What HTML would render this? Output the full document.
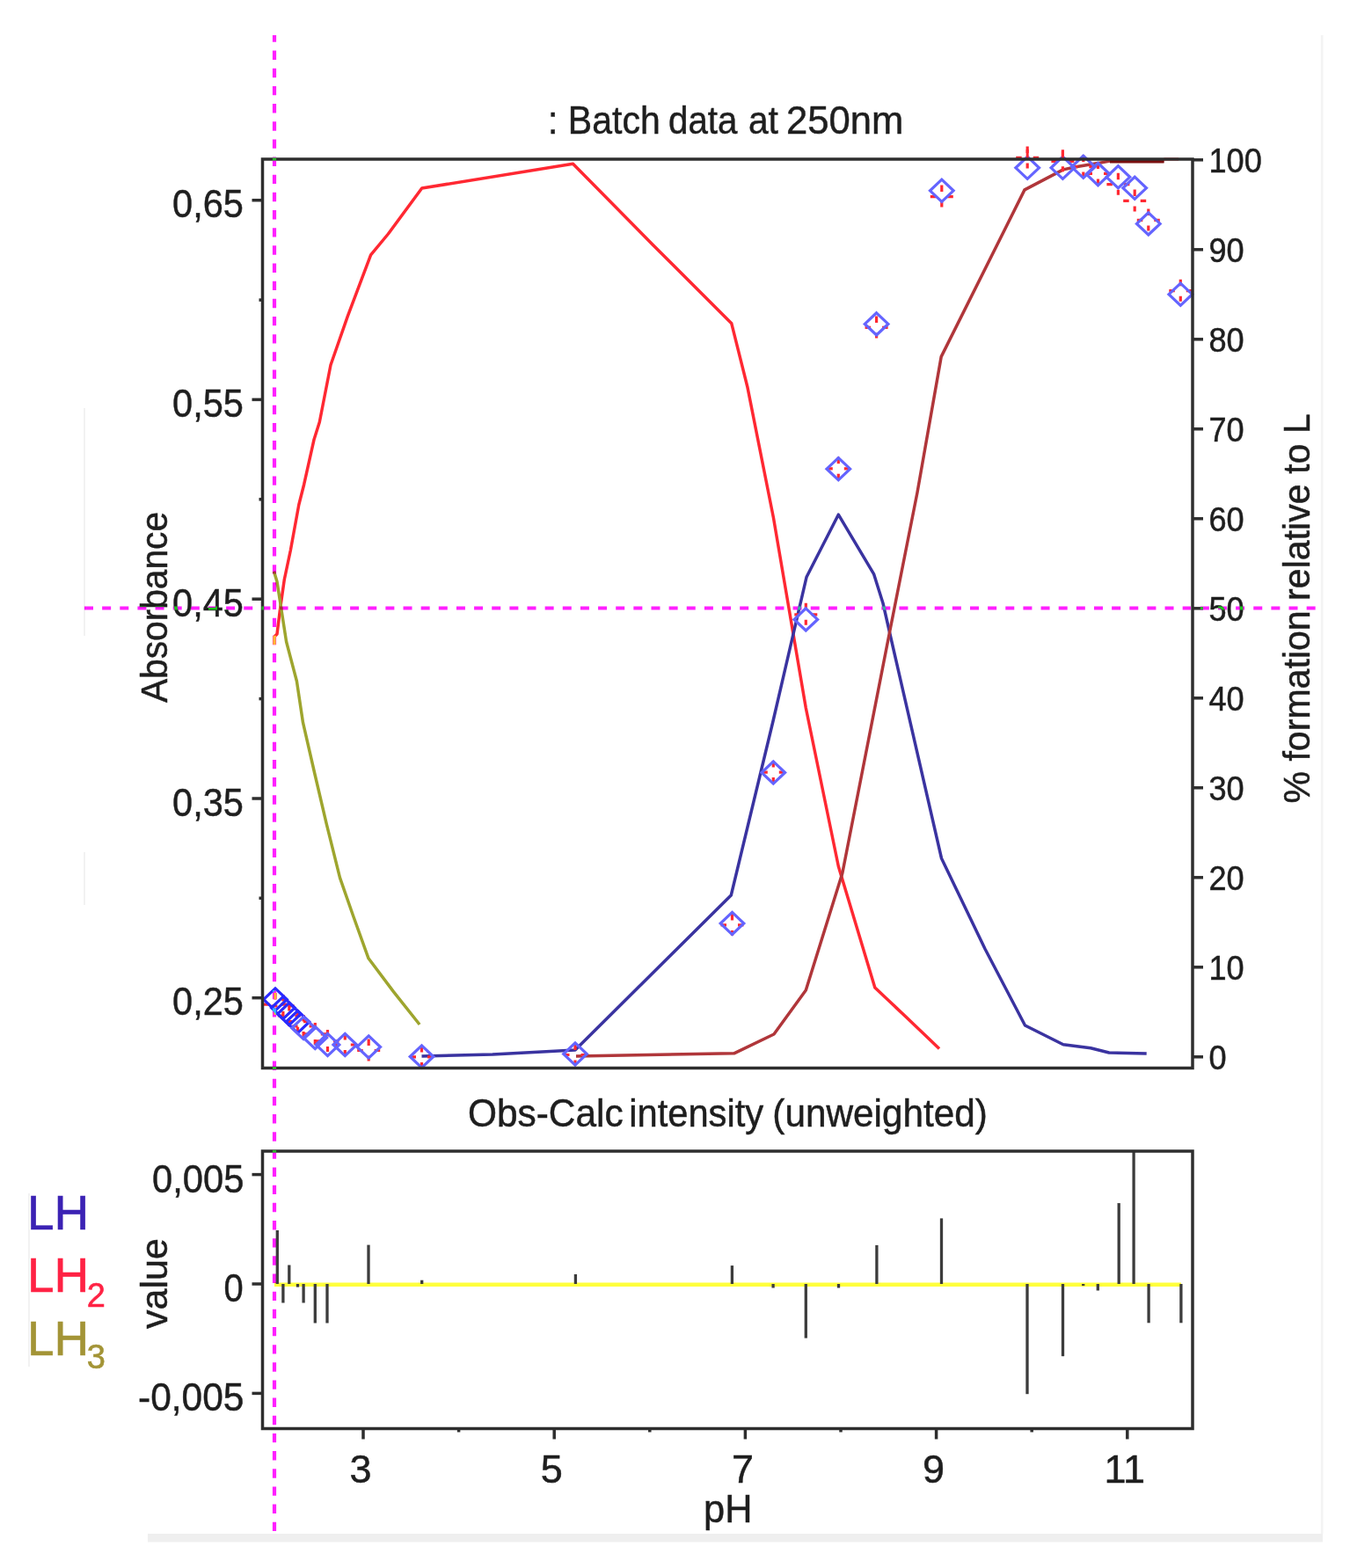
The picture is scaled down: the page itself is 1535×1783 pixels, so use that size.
<!DOCTYPE html>
<html><head><meta charset="utf-8"><title>Batch data at 250nm</title>
<style>html,body{margin:0;padding:0;background:#fff;width:1535px;height:1783px;overflow:hidden}</style>
</head><body>
<svg width="1535" height="1783" viewBox="0 0 1535 1783" style="display:block;font-family:'Liberation Sans', Arial, sans-serif">
<rect width="1535" height="1783" fill="#fff"/>
<rect x="1501.8" y="40" width="2.6" height="1704" fill="#f3f3f3"/>
<rect x="168" y="1744" width="1336" height="9.5" fill="#efefef"/>
<g stroke="#f2f2f2" stroke-width="2">
<line x1="96" y1="464" x2="96" y2="723"/>
<line x1="96" y1="969" x2="96" y2="1029"/>
<line x1="33" y1="1357" x2="33" y2="1554"/>
</g>
<g fill="none" stroke-width="3.5" stroke-linejoin="round" stroke-linecap="butt">
<polyline stroke="#ff2832" points="312.0,733.0 312.0,724.0 315.0,721.0 318.6,692.0 323.3,659.0 330.3,626.0 339.8,574.0 345.7,550.7 357.0,500.0 363.3,480.0 376.0,415.0 395.3,359.7 421.6,289.8 441.4,266.0 479.7,214.0 651.5,186.3 741.9,277.9 831.8,367.8 849.8,439.7 879.5,589.0 916.3,805.0 953.3,985.0 994.8,1123.0 1031.9,1158.0 1068.0,1192.5"/>
<polyline stroke="#9ea52e" points="311.5,649.7 315.0,661.4 325.6,729.8 337.4,774.5 344.5,821.7 357.9,880.0 371.3,937.2 386.5,998.2 401.8,1042.0 419.0,1089.8 447.6,1127.9 477.1,1165.0"/>
<polyline stroke="#3a33a0" points="479.5,1201.0 560.0,1199.0 654.0,1194.0 831.3,1018.0 879.0,820.0 917.0,656.3 953.3,585.2 993.5,652.6 1004.0,686.0 1011.5,719.0 1070.5,976.0 1120.0,1079.0 1165.5,1166.0 1208.9,1187.7 1240.1,1191.8 1261.0,1197.0 1303.7,1198.0"/>
<polyline stroke="#b0363a" points="655.0,1201.0 834.6,1197.8 880.0,1176.0 916.3,1126.0 957.8,993.0 1011.5,719.0 1043.0,560.0 1070.2,405.6 1165.0,215.9 1208.9,192.9 1223.4,189.8 1248.5,185.6 1262.0,183.0 1323.5,183.0"/>
</g>
<line x1="1262" y1="183.5" x2="1323.5" y2="183.5" stroke="#7a1010" stroke-width="4"/>
<line x1="1323.5" y1="181" x2="1340" y2="181" stroke="#ff2832" stroke-width="3"/>
<g fill="none" stroke="#ff2832" stroke-width="3.2">
<path d="M313.0,1129.1v7.5M300.0,1142.1h6.5M319.5,1142.1h6.5M313.0,1148.1v6"/>
<path d="M321.9,1131.0v7.5M308.9,1144.0h6.5M328.4,1144.0h6.5M321.9,1150.0v6"/>
<path d="M328.8,1142.0v7.5M315.8,1155.0h6.5M335.3,1155.0h6.5M328.8,1161.0v6"/>
<path d="M338.5,1148.7v7.5M325.5,1161.7h6.5M345.0,1161.7h6.5M338.5,1167.7v6"/>
<path d="M345.1,1154.0v7.5M332.1,1167.0h6.5M351.6,1167.0h6.5M345.1,1173.0v6"/>
<path d="M358.3,1162.9v7.5M345.3,1175.9h6.5M364.8,1175.9h6.5M358.3,1181.9v6"/>
<path d="M372.5,1170.9v7.5M359.5,1183.9h6.5M379.0,1183.9h6.5M372.5,1189.9v6"/>
<path d="M392.3,1175.0v7.5M379.3,1188.0h6.5M398.8,1188.0h6.5M392.3,1194.0v6"/>
<path d="M419.2,1181.5v7.5M406.2,1194.5h6.5M425.7,1194.5h6.5M419.2,1200.5v6"/>
<path d="M479.5,1188.9v7.5M466.5,1201.9h6.5M486.0,1201.9h6.5M479.5,1207.9v6"/>
<path d="M654.0,1186.5v7.5M641.0,1199.5h6.5M660.5,1199.5h6.5M654.0,1205.5v6"/>
<path d="M832.5,1038.9v7.5M819.5,1051.9h6.5M839.0,1051.9h6.5M832.5,1057.9v6"/>
<path d="M879.3,865.1v7.5M866.3,878.1h6.5M885.8,878.1h6.5M879.3,884.1v6"/>
<path d="M916.3,685.8v7.5M903.3,698.8h6.5M922.8,698.8h6.5M916.3,704.8v6"/>
<path d="M953.3,519.8v7.5M940.3,532.8h6.5M959.8,532.8h6.5M953.3,538.8v6"/>
<path d="M996.6,359.4v7.5M983.6,372.4h6.5M1003.1,372.4h6.5M996.6,378.4v6"/>
<path d="M1070.8,210.6v7.5M1057.8,223.6h6.5M1077.3,223.6h6.5M1070.8,229.6v6"/>
<path d="M1168.2,166.4v7.5M1155.2,179.4h6.5M1174.7,179.4h6.5M1168.2,185.4v6"/>
<path d="M1208.4,170.3v7.5M1195.4,183.3h6.5M1214.9,183.3h6.5M1208.4,189.3v6"/>
<path d="M1231.8,176.6v7.5M1218.8,189.6h6.5M1238.3,189.6h6.5M1231.8,195.6v6"/>
<path d="M1248.5,184.4v7.5M1235.5,197.4h6.5M1255.0,197.4h6.5M1248.5,203.4v6"/>
<path d="M1271.4,196.7v7.5M1258.4,209.7h6.5M1277.9,209.7h6.5M1271.4,215.7v6"/>
<path d="M1290.2,215.4v7.5M1277.2,228.4h6.5M1296.7,228.4h6.5M1290.2,234.4v6"/>
<path d="M1305.8,237.4v7.5M1292.8,250.4h6.5M1312.3,250.4h6.5M1305.8,256.4v6"/>
<path d="M1342.3,317.7v7.5M1329.3,330.7h6.5M1348.8,330.7h6.5M1342.3,336.7v6"/>
</g>
<g fill="none" stroke="#6464ff" stroke-width="3.2">
<path stroke="#2a2aff" d="M313.0,1123.9L326.3,1136.5L313.0,1149.1L299.7,1136.5Z"/>
<path stroke="#2a2aff" d="M321.9,1133.4L335.2,1146.0L321.9,1158.6L308.6,1146.0Z"/>
<path stroke="#2a2aff" d="M328.8,1140.4L342.1,1153.0L328.8,1165.6L315.5,1153.0Z"/>
<path stroke="#2a2aff" d="M338.5,1149.4L351.8,1162.0L338.5,1174.6L325.2,1162.0Z"/>
<path d="M345.1,1156.4L358.4,1169.0L345.1,1181.6L331.8,1169.0Z"/>
<path d="M358.3,1167.4L371.6,1180.0L358.3,1192.6L345.0,1180.0Z"/>
<path d="M372.5,1175.4L385.8,1188.0L372.5,1200.6L359.2,1188.0Z"/>
<path d="M392.3,1175.4L405.6,1188.0L392.3,1200.6L379.0,1188.0Z"/>
<path d="M419.2,1177.9L432.5,1190.5L419.2,1203.1L405.9,1190.5Z"/>
<path d="M479.5,1188.9L492.8,1201.5L479.5,1214.1L466.2,1201.5Z"/>
<path d="M654.0,1185.9L667.3,1198.5L654.0,1211.1L640.7,1198.5Z"/>
<path d="M832.5,1037.4L845.8,1050.0L832.5,1062.6L819.2,1050.0Z"/>
<path d="M879.3,865.9L892.6,878.5L879.3,891.1L866.0,878.5Z"/>
<path d="M916.3,691.8L929.6,704.4L916.3,717.0L903.0,704.4Z"/>
<path d="M953.3,520.6L966.6,533.2L953.3,545.8L940.0,533.2Z"/>
<path d="M996.6,355.8L1009.9,368.4L996.6,381.0L983.3,368.4Z"/>
<path d="M1070.8,204.2L1084.1,216.8L1070.8,229.4L1057.5,216.8Z"/>
<path d="M1168.2,178.2L1181.5,190.8L1168.2,203.4L1154.9,190.8Z"/>
<path d="M1208.4,178.2L1221.7,190.8L1208.4,203.4L1195.1,190.8Z"/>
<path d="M1231.8,177.2L1245.1,189.8L1231.8,202.4L1218.5,189.8Z"/>
<path d="M1248.5,185.5L1261.8,198.1L1248.5,210.7L1235.2,198.1Z"/>
<path d="M1271.4,188.7L1284.7,201.3L1271.4,213.9L1258.1,201.3Z"/>
<path d="M1290.2,201.2L1303.5,213.8L1290.2,226.4L1276.9,213.8Z"/>
<path d="M1305.8,241.8L1319.1,254.4L1305.8,267.0L1292.5,254.4Z"/>
<path d="M1342.3,322.1L1355.6,334.7L1342.3,347.3L1329.0,334.7Z"/>
</g>
<path d="M1168.2,170v10M1208.4,172v10" stroke="#ff2832" stroke-width="3"/>
<line x1="312" y1="1460.8" x2="1343" y2="1460.8" stroke="#ffff3c" stroke-width="4.5"/>
<g stroke="#3c3c3c" stroke-width="3.3">
<line x1="315.3" y1="1460" x2="315.3" y2="1399"/>
<line x1="321.9" y1="1460" x2="321.9" y2="1481.5"/>
<line x1="328.8" y1="1460" x2="328.8" y2="1438.5"/>
<line x1="338.5" y1="1460" x2="338.5" y2="1463.6"/>
<line x1="345.1" y1="1460" x2="345.1" y2="1481.5"/>
<line x1="358.3" y1="1460" x2="358.3" y2="1504.5"/>
<line x1="372" y1="1460" x2="372" y2="1504.5"/>
<line x1="419" y1="1460" x2="419" y2="1415.6"/>
<line x1="479.7" y1="1460" x2="479.7" y2="1455.7"/>
<line x1="654.4" y1="1460" x2="654.4" y2="1449"/>
<line x1="832.4" y1="1460" x2="832.4" y2="1439.1"/>
<line x1="879.1" y1="1460" x2="879.1" y2="1464.5"/>
<line x1="916.3" y1="1460" x2="916.3" y2="1521.6"/>
<line x1="953.5" y1="1460" x2="953.5" y2="1464.5"/>
<line x1="996.9" y1="1460" x2="996.9" y2="1415.9"/>
<line x1="1070.5" y1="1460" x2="1070.5" y2="1385.4"/>
<line x1="1168" y1="1460" x2="1168" y2="1585.2"/>
<line x1="1208.5" y1="1460" x2="1208.5" y2="1542.2"/>
<line x1="1231.7" y1="1460" x2="1231.7" y2="1462"/>
<line x1="1248.3" y1="1460" x2="1248.3" y2="1467.5"/>
<line x1="1272.2" y1="1460" x2="1272.2" y2="1368.1"/>
<line x1="1289.1" y1="1460" x2="1289.1" y2="1309"/>
<line x1="1306.1" y1="1460" x2="1306.1" y2="1504.3"/>
<line x1="1342.9" y1="1460" x2="1342.9" y2="1504.3"/>
</g>
<g fill="none" stroke="#2e2e2e" stroke-width="3.5">
<rect x="298.5" y="181" width="1057.5" height="1033.5"/>
<rect x="298.5" y="1309" width="1057.5" height="315.5"/>
<line x1="286.5" y1="227.7" x2="298.5" y2="227.7"/>
<line x1="294.5" y1="341.1" x2="298.5" y2="341.1"/>
<line x1="286.5" y1="454.4" x2="298.5" y2="454.4"/>
<line x1="294.5" y1="567.8" x2="298.5" y2="567.8"/>
<line x1="286.5" y1="681.2" x2="298.5" y2="681.2"/>
<line x1="294.5" y1="794.6" x2="298.5" y2="794.6"/>
<line x1="286.5" y1="908.0" x2="298.5" y2="908.0"/>
<line x1="294.5" y1="1021.3" x2="298.5" y2="1021.3"/>
<line x1="286.5" y1="1134.7" x2="298.5" y2="1134.7"/>
<line x1="1356" y1="1201.8" x2="1368" y2="1201.8"/>
<line x1="1356" y1="1099.8" x2="1368" y2="1099.8"/>
<line x1="1356" y1="997.8" x2="1368" y2="997.8"/>
<line x1="1356" y1="895.8" x2="1368" y2="895.8"/>
<line x1="1356" y1="793.8" x2="1368" y2="793.8"/>
<line x1="1356" y1="691.8" x2="1368" y2="691.8"/>
<line x1="1356" y1="589.8" x2="1368" y2="589.8"/>
<line x1="1356" y1="487.8" x2="1368" y2="487.8"/>
<line x1="1356" y1="385.8" x2="1368" y2="385.8"/>
<line x1="1356" y1="283.8" x2="1368" y2="283.8"/>
<line x1="1356" y1="181.8" x2="1368" y2="181.8"/>
<line x1="286.5" y1="1335.6" x2="298.5" y2="1335.6"/>
<line x1="286.5" y1="1460.0" x2="298.5" y2="1460.0"/>
<line x1="286.5" y1="1584.4" x2="298.5" y2="1584.4"/>
<line x1="413.0" y1="1624.5" x2="413.0" y2="1636.5"/>
<line x1="521.6" y1="1624.5" x2="521.6" y2="1628.5"/>
<line x1="630.2" y1="1624.5" x2="630.2" y2="1636.5"/>
<line x1="738.8" y1="1624.5" x2="738.8" y2="1628.5"/>
<line x1="847.4" y1="1624.5" x2="847.4" y2="1636.5"/>
<line x1="956.0" y1="1624.5" x2="956.0" y2="1628.5"/>
<line x1="1064.6" y1="1624.5" x2="1064.6" y2="1636.5"/>
<line x1="1173.2" y1="1624.5" x2="1173.2" y2="1628.5"/>
<line x1="1281.8" y1="1624.5" x2="1281.8" y2="1636.5"/>
</g>
<g fill="#1e1e1e" stroke="#1e1e1e" stroke-width="0.5" font-size="42">
<text x="623.1" y="152.3" font-size="44" textLength="127.6" lengthAdjust="spacingAndGlyphs">: Batch</text>
<text x="760.0" y="152.3" font-size="44" textLength="78.4" lengthAdjust="spacingAndGlyphs">data</text>
<text x="850.95" y="152.3" font-size="44" textLength="34.0" lengthAdjust="spacingAndGlyphs">at</text>
<text x="893.9" y="152.3" font-size="44" textLength="133.4" lengthAdjust="spacingAndGlyphs">250nm</text>
<text x="531.9" y="1280.5" font-size="44" textLength="176.8" lengthAdjust="spacingAndGlyphs">Obs-Calc</text>
<text x="715.2" y="1280.5" font-size="44" textLength="153.0" lengthAdjust="spacingAndGlyphs">intensity</text>
<text x="878.3" y="1280.5" font-size="44" textLength="244.5" lengthAdjust="spacingAndGlyphs">(unweighted)</text>
<text x="196.1" y="247.2" font-size="45" textLength="80.81" lengthAdjust="spacingAndGlyphs">0,65</text>
<text x="196.1" y="473.9" font-size="45" textLength="80.81" lengthAdjust="spacingAndGlyphs">0,55</text>
<text x="196.1" y="700.7" font-size="45" textLength="80.81" lengthAdjust="spacingAndGlyphs">0,45</text>
<text x="196.1" y="927.5" font-size="45" textLength="80.81" lengthAdjust="spacingAndGlyphs">0,35</text>
<text x="196.1" y="1154.2" font-size="45" textLength="80.81" lengthAdjust="spacingAndGlyphs">0,25</text>
<text x="173.1" y="1355.6" font-size="45" textLength="104.36" lengthAdjust="spacingAndGlyphs">0,005</text>
<text x="254.6" y="1480.0" font-size="45" textLength="22.19" lengthAdjust="spacingAndGlyphs">0</text>
<text x="157.1" y="1604.4" font-size="45" textLength="120.35" lengthAdjust="spacingAndGlyphs">-0,005</text>
<text x="410.0" y="1685.5" text-anchor="middle" font-size="45">3</text>
<text x="627.2" y="1685.5" text-anchor="middle" font-size="45">5</text>
<text x="844.4" y="1685.5" text-anchor="middle" font-size="45">7</text>
<text x="1061.6" y="1685.5" text-anchor="middle" font-size="45">9</text>
<text x="1278.8" y="1685.5" text-anchor="middle" font-size="45">11</text>
<text x="800.1" y="1731.2" font-size="44" textLength="55.35" lengthAdjust="spacingAndGlyphs">pH</text>
<text transform="translate(190,799) rotate(-90)" font-size="43" textLength="217" lengthAdjust="spacingAndGlyphs">Absorbance</text>
<text transform="translate(190,1511) rotate(-90)" font-size="43">value</text>
<text transform="translate(1489,913.5) rotate(-90)" font-size="42" textLength="443" lengthAdjust="spacingAndGlyphs">% formation relative to L</text>
</g>
<g fill="#1e1e1e" stroke="#1e1e1e" stroke-width="0.5" font-size="38">
<text x="1374.5" y="1216.3" textLength="20.08" lengthAdjust="spacingAndGlyphs">0</text>
<text x="1374.5" y="1114.3" textLength="40.17" lengthAdjust="spacingAndGlyphs">10</text>
<text x="1374.5" y="1012.3" textLength="40.17" lengthAdjust="spacingAndGlyphs">20</text>
<text x="1374.5" y="910.3" textLength="40.17" lengthAdjust="spacingAndGlyphs">30</text>
<text x="1374.5" y="808.3" textLength="40.17" lengthAdjust="spacingAndGlyphs">40</text>
<text x="1374.5" y="706.3" textLength="40.17" lengthAdjust="spacingAndGlyphs">50</text>
<text x="1374.5" y="604.3" textLength="40.17" lengthAdjust="spacingAndGlyphs">60</text>
<text x="1374.5" y="502.3" textLength="40.17" lengthAdjust="spacingAndGlyphs">70</text>
<text x="1374.5" y="400.3" textLength="40.17" lengthAdjust="spacingAndGlyphs">80</text>
<text x="1374.5" y="298.3" textLength="40.17" lengthAdjust="spacingAndGlyphs">90</text>
<text x="1374.5" y="196.3" textLength="60.24" lengthAdjust="spacingAndGlyphs">100</text>
</g>
<g font-size="55" stroke-width="0.6">
<text x="31" y="1398" fill="#3b22b4" stroke="#3b22b4">LH</text>
<text x="31" y="1469" fill="#ff2244" stroke="#ff2244">LH<tspan font-size="38" dx="-2.5" dy="17">2</tspan></text>
<text x="31" y="1541" fill="#a39436" stroke="#a39436">LH<tspan font-size="38" dx="-2.5" dy="15">3</tspan></text>
</g>
<g style="mix-blend-mode:difference" stroke="#00e000">
<line x1="312" y1="40" x2="312" y2="1741.5" stroke-width="4.2" stroke-dasharray="10.4 9.758" stroke-dashoffset="2.56"/>
<line x1="96" y1="691.5" x2="1496" y2="691.5" stroke-width="4" stroke-dasharray="10 10.14"/>
</g>
</svg>
</body></html>
